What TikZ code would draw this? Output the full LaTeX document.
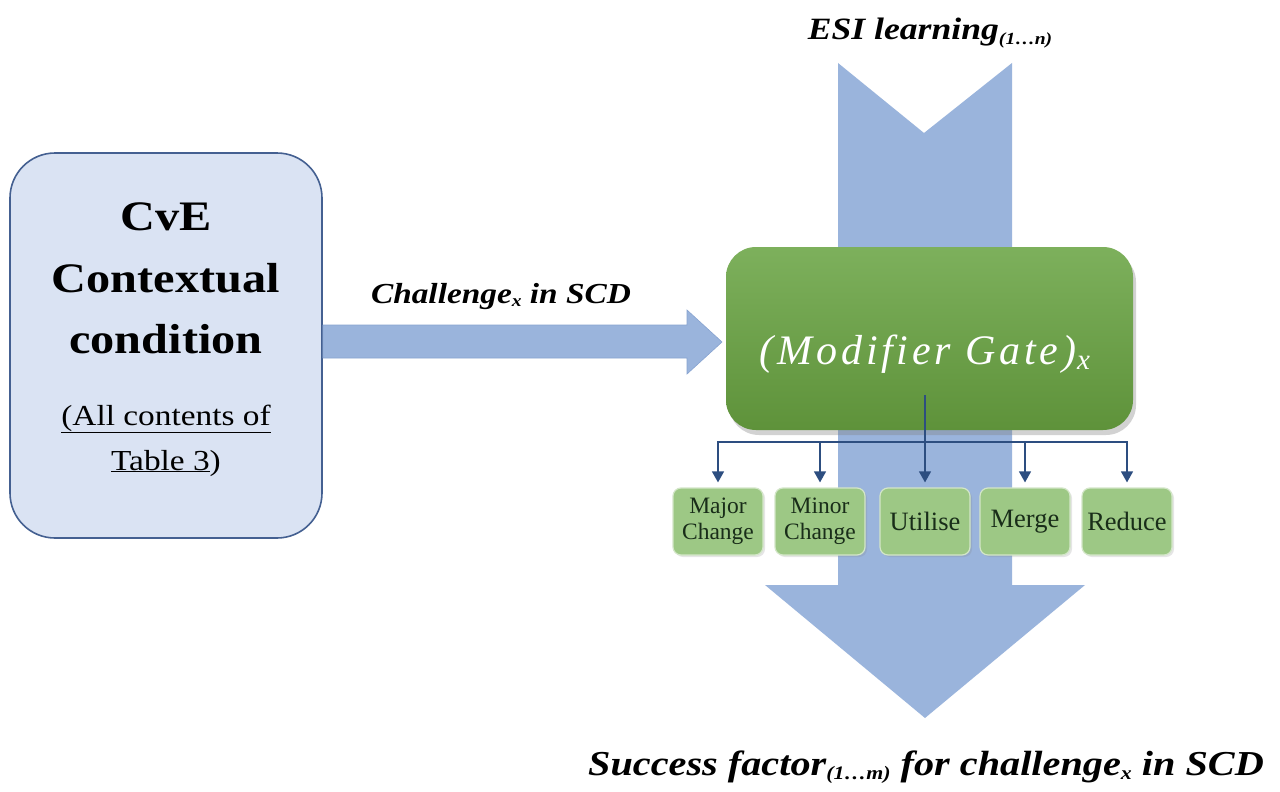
\documentclass[tikz,border=0pt]{standalone}
\usepackage{fontspec}
\setmainfont{Liberation Serif}
\newfontfamily\palfont[FakeStretch=1.15]{Liberation Serif}
\newfontfamily\gatefont[LetterSpace=9]{Liberation Serif}
\usetikzlibrary{arrows.meta,shadows}
\definecolor{flowblue}{RGB}{154,180,220}
\definecolor{flowedge}{RGB}{135,163,208}
\definecolor{boxfill}{RGB}{218,227,243}
\definecolor{boxedge}{RGB}{68,96,145}
\definecolor{gatetop}{RGB}{125,176,92}
\definecolor{gatebot}{RGB}{94,146,58}
\definecolor{optfill}{RGB}{157,200,133}
\definecolor{opttext}{RGB}{25,45,25}
\definecolor{connblue}{RGB}{45,78,128}
\newcommand\lowsub[2]{\raisebox{-0.3ex}{\fontsize{#1}{#1}\selectfont #2}}
\tikzset{
  flowarrow/.style={fill=flowblue,draw=flowedge,line width=0.6pt},
  cvebox/.style={draw=boxedge,fill=boxfill,line width=1.6pt,rounded corners=45pt,
    minimum width=312pt,minimum height=385pt,inner sep=0pt},
  gatebox/.style={rounded corners=30pt,top color=gatetop,bottom color=gatebot,
    draw=none,minimum width=407pt,minimum height=183pt,inner sep=0pt,
    drop shadow={shadow xshift=3pt,shadow yshift=-5pt,opacity=0.35}},
  optbox/.style={rounded corners=8pt,fill=optfill,draw=optfill!45!white,line width=1.2pt,
    minimum width=90pt,minimum height=67pt,inner sep=1pt,align=center,text=opttext,
    font=\fontsize{23.5}{26}\selectfont,
    drop shadow={shadow xshift=2pt,shadow yshift=-2pt,opacity=0.2}},
  optone/.style={optbox,font=\fontsize{26.5}{28}\selectfont},
  conn/.style={draw=connblue,line width=1.3pt},
  connarrow/.style={conn,-{Triangle[width=12pt,length=11pt]},shorten >=5pt},
  headtext/.style={inner sep=0pt,anchor=base,font=\palfont\fontsize{31}{34}\selectfont\bfseries\itshape}
}
\begin{document}
\begin{tikzpicture}[x=1pt,y=-1pt]
\useasboundingbox (0,0) rectangle (1280,792);
\fill[white] (0,0) rectangle (1280,792);
% big vertical flow arrow
\path[flowarrow,draw=none] (838,63) -- (924,133) -- (1012,63) -- (1012,585) -- (1085,585)
  -- (925,718) -- (765,585) -- (838,585) -- cycle;
% left box
\node[cvebox] (cve) at (166,345.5) {};
% horizontal arrow
\path[flowarrow] (cve.east |- 0,325) -- (687,325) -- (687,310) -- (722,342) -- (687,374)
  -- (687,358) -- (cve.east |- 0,358) -- cycle;
% left box texts
\node[inner sep=0pt,anchor=base,font=\palfont\fontsize{42}{44}\selectfont\bfseries] (cvet1) at (166,230) {CvE};
\node[inner sep=0pt,anchor=base,font=\palfont\fontsize{42}{44}\selectfont\bfseries] (cvet2) at (166,292) {Contextual};
\node[inner sep=0pt,anchor=base,font=\palfont\fontsize{42}{44}\selectfont\bfseries] (cvet3) at (166,353) {condition};
\node[inner sep=0pt,anchor=base,font=\palfont\fontsize{29}{31}\selectfont] (cvet4) at (166,425) {\underline{(All contents of}};
\node[inner sep=0pt,anchor=base,font=\palfont\fontsize{29}{31}\selectfont] (cvet5) at (166,470) {\underline{Table 3})};
% gate
\node[gatebox] (gate) at (929.5,338.5) {};
\node[inner sep=0pt,anchor=base,text=white,font=\gatefont\fontsize{42}{44}\selectfont\itshape] (gatelabel) at (925,364)
  {(Modifier Gate)\lowsub{29}{\kern1pt x}};
% option boxes
\node[optbox] (major) at (718,521.5) {Major\\Change};
\node[optbox] (minor) at (820,521.5) {Minor\\Change};
\node[optone] (utilise) at (925,521.5) {Utilise};
\node[optone] (merge) at (1025,521.5) {Merge};
\node[optone] (reduce) at (1127,521.5) {Reduce};
% connectors
\coordinate (gs) at (925,395);
\coordinate (bus) at (925,442);
\draw[conn] (gs) -- (bus);
\draw[connarrow] (bus) -| (major.north);
\draw[connarrow] (bus) -| (minor.north);
\draw[connarrow] (bus) -- (utilise.north);
\draw[connarrow] (bus) -| (merge.north);
\draw[connarrow] (bus) -| (reduce.north);
% labels
\node[headtext] (esi) at (930,40) {ESI learning\lowsub{17}{(1\ldots n)}};
\node[headtext,font=\palfont\fontsize{29}{32}\selectfont\bfseries\itshape] (chal) at (501,303) {Challenge\lowsub{17}{x} in SCD};
\node[headtext,font=\palfont\fontsize{35}{37}\selectfont\bfseries\itshape] (succ) at (926,775) {Success factor\lowsub{19}{(1\ldots m)} for challenge\lowsub{19}{x} in SCD};
\end{tikzpicture}
\end{document}
